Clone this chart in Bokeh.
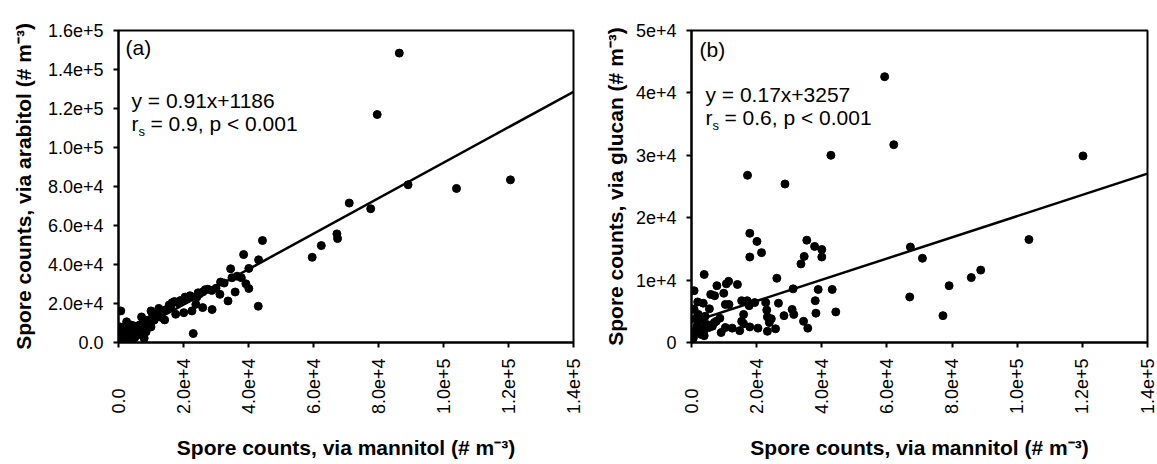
import math
from bokeh.plotting import figure
from bokeh.models import Range1d, FixedTicker, Label
from bokeh.layouts import row
from bokeh.embed import file_html
from bokeh.resources import INLINE

# ---------------- data ----------------
x_ticks = [0, 20000, 40000, 60000, 80000, 100000, 120000, 140000]
x_tick_labels = ["0.0", "2.0e+4", "4.0e+4", "6.0e+4", "8.0e+4", "1.0e+5", "1.2e+5", "1.4e+5"]
ya_ticks = [0, 20000, 40000, 60000, 80000, 100000, 120000, 140000, 160000]
ya_tick_labels = ["0.0", "2.0e+4", "4.0e+4", "6.0e+4", "8.0e+4", "1.0e+5", "1.2e+5", "1.4e+5", "1.6e+5"]
yb_ticks = [0, 10000, 20000, 30000, 40000, 50000]
yb_tick_labels = ["0", "1e+4", "2e+4", "3e+4", "4e+4", "5e+4"]

# panel (a): mannitol vs arabitol (thousands)
mannitol_a_k = [86.4, 79.6, 89.1, 104.0, 120.6, 71.0, 77.6, 67.2, 67.4, 62.4, 59.6, 44.3, 43.1, 43.0,
                38.5, 40.1, 40.1, 39.2, 37.8, 34.5, 34.9, 35.9, 33.7, 31.4, 31.2, 28.7, 28.8, 26.7,
                25.9, 25.0, 24.1, 23.0, 22.6, 23.8, 20.5, 20.1, 18.4, 17.6, 16.5, 15.6, 14.2, 14.5,
                12.4, 11.4, 10.0, 10.5, 8.8, 7.1, 7.9, 5.9, 4.8, 2.5, 0.7, 0.9,
                15.0, 16.0, 17.2, 19.0, 21.0, 22.0, 24.5, 26.0, 27.5, 30.0, 32.5, 36.5, 13.0, 12.0,
                9.5, 11.0,
                0.3, 0.8, 1.5, 2.0, 2.5, 3.0, 3.5, 4.0, 4.5, 5.0, 5.5, 6.0, 6.5, 7.0, 7.5, 8.0, 9.0,
                10.0, 0.5, 1.0, 1.8, 2.2, 3.0, 0.2, 1.2, 2.8, 3.8, 5.0, 6.0, 8.5, 4.0]
arabitol_k = [148.4, 116.9, 80.9, 79.0, 83.4, 71.5, 68.6, 55.7, 53.3, 49.7, 43.7, 52.3, 42.4, 18.6,
              45.1, 38.0, 27.7, 30.1, 33.2, 37.8, 33.2, 25.9, 21.3, 31.0, 24.7, 26.7, 16.9, 27.1,
              17.9, 25.0, 23.3, 4.6, 16.2, 19.6, 23.3, 15.3, 20.3, 14.5, 20.4, 19.2, 11.6, 16.7,
              17.5, 12.8, 16.2, 14.1, 11.4, 13.1, 2.2, 6.0, 8.5, 10.6, 16.2, 6.8,
              17.0, 18.2, 21.0, 21.5, 22.2, 24.0, 25.5, 26.0, 27.3, 27.8, 30.5, 34.0, 13.0, 15.0,
              10.0, 11.5,
              0.5, 1.5, 3.0, 1.0, 4.0, 2.5, 5.0, 3.5, 6.5, 5.0, 7.0, 8.0, 9.0, 6.0, 10.0, 7.5, 9.0,
              8.0, 8.0, 4.5, 6.0, 2.0, 0.5, 1.5, 0.3, 7.0, 9.0, 2.5, 4.0, 5.5, 1.5]

# panel (b): mannitol vs glucan (thousands)
mannitol_b_k = [59.3, 62.1, 42.8, 120.2, 17.2, 28.7, 17.9, 20.1, 35.4, 103.6, 37.8, 40.0, 67.2, 34.6,
                17.9, 40.0, 21.5, 70.9, 33.6, 88.8, 85.9, 3.9, 26.2, 11.4, 10.7, 14.1, 7.8, 79.1,
                9.9, 0.8, 31.2, 38.9, 43.2, 5.9, 7.1, 67.0, 1.9, 3.6, 10.4, 11.5, 15.4, 17.1, 17.7,
                19.4, 22.8, 26.7, 38.0, 0.2, 5.5, 30.9, 23.1, 44.3, 38.2, 77.2, 16.0, 28.4, 31.4,
                23.3, 24.5, 34.4, 15.4, 16.0, 23.9, 7.6, 8.7, 35.7, 25.8, 20.4, 17.9, 14.8, 12.5,
                10.4, 9.1, 23.3,
                0.8, 1.4, 1.9, 2.5, 3.0, 3.9, 0.6, 1.0, 3.0, 4.2, 4.7, 5.3, 6.4, 7.0, 4.4, 2.1, 1.7,
                0.3, 2.8, 3.7]
glucan_k = [42.6, 31.7, 30.0, 29.9, 26.8, 25.4, 17.5, 16.2, 16.4, 16.5, 15.4, 14.9, 15.3, 13.8,
            13.7, 13.7, 14.4, 13.5, 12.6, 11.6, 10.4, 10.9, 10.3, 9.8, 9.4, 9.3, 9.1, 9.1,
            7.9, 8.3, 8.6, 8.5, 8.5, 7.7, 7.5, 7.3, 6.5, 6.3, 6.1, 6.1, 6.7, 6.7, 5.9,
            6.4, 6.4, 6.3, 6.7, 5.4, 5.4, 5.3, 5.2, 4.9, 4.7, 4.3, 4.5, 4.3, 4.5,
            4.1, 3.8, 3.4, 3.4, 3.0, 3.2, 3.4, 3.9, 2.3, 2.2, 2.3, 2.5, 1.9, 2.3,
            2.4, 1.6, 1.8,
            5.3, 3.9, 2.9, 2.1, 1.3, 1.1, 0.8, 1.8, 3.7, 4.2, 2.9, 2.4, 2.6, 3.2, 2.6, 4.5, 2.6,
            0.5, 2.1, 1.6]

mannitol_a = [v * 1000 for v in mannitol_a_k]
arabitol = [v * 1000 for v in arabitol_k]
mannitol_b = [v * 1000 for v in mannitol_b_k]
glucan = [v * 1000 for v in glucan_k]

fit_a = (0.91, 1186)
fit_b = (0.17, 3257)
x_min, x_max = 0, 140000
fit_x = [x_min, x_max]

x_title = "Spore counts, via mannitol (# m\u207b\u00b3)"

FONT = "Liberation Sans"
NBSP = "\u00a0"
ANN_SIZE = "21px"


def padded(labels):
    # the reference aligns the rotated labels at their start; pad short ones
    longest = max(len(l) for l in labels)
    return [l + NBSP * (2 * (longest - len(l))) for l in labels]


def style_axis(ax):
    ax.axis_line_width = 2
    ax.axis_line_color = "black"
    ax.major_tick_line_width = 2
    ax.major_tick_line_color = "black"
    ax.major_tick_out = 5
    ax.major_tick_in = 0
    ax.minor_tick_line_color = None
    ax.major_label_text_font = FONT
    ax.major_label_text_font_size = "18px"
    ax.major_label_text_color = "black"
    ax.axis_label_text_font = FONT
    ax.axis_label_text_font_size = "21px"
    ax.axis_label_text_font_style = "bold"
    ax.axis_label_text_color = "black"


def add_text(p, x, y, text, size):
    p.add_layout(Label(x=x, y=y, x_units="screen", y_units="screen", text=text,
                       text_baseline="middle", text_font=FONT, text_font_size=size,
                       text_color="black"))


def make_panel(xs, ys, fit, yticks, ylabels, ymax, ytitle, tag, eq, rtext,
               width, border_left, border_right, border_top, border_bottom, ytitle_standoff,
               ann_x, tag_y, eq_y):
    p = figure(width=width, height=464, output_backend="svg", toolbar_location=None,
               x_range=Range1d(x_min, x_max), y_range=Range1d(0, ymax),
               min_border_left=border_left, min_border_right=border_right,
               min_border_top=border_top, min_border_bottom=border_bottom)
    p.grid.visible = False
    p.outline_line_color = "black"
    p.outline_line_width = 2
    p.background_fill_color = "white"
    p.border_fill_color = "white"

    xa = p.xaxis[0]
    ya = p.yaxis[0]
    style_axis(xa)
    style_axis(ya)

    xa.ticker = FixedTicker(ticks=x_ticks)
    xa.major_label_overrides = {t: l for t, l in zip(x_ticks, padded(x_tick_labels))}
    xa.major_label_orientation = math.pi / 2
    xa.major_label_standoff = 11
    xa.axis_label = x_title
    xa.axis_label_standoff = 19

    ya.ticker = FixedTicker(ticks=yticks)
    ya.major_label_overrides = {t: l for t, l in zip(yticks, ylabels)}
    ya.major_label_standoff = 10
    ya.axis_label = ytitle
    ya.axis_label_standoff = ytitle_standoff

    p.line(fit_x, [fit[0] * v + fit[1] for v in fit_x], line_width=2.5, line_color="black")
    p.scatter(xs, ys, size=8, fill_color="black", line_color="black")

    add_text(p, ann_x - 6, tag_y, tag, ANN_SIZE)
    add_text(p, ann_x, eq_y, eq, ANN_SIZE)
    add_text(p, ann_x, eq_y - 23, "r", ANN_SIZE)
    add_text(p, ann_x + 7, eq_y - 31, "s", "13px")
    add_text(p, ann_x + 19, eq_y - 23, rtext, ANN_SIZE)
    return p


pa = make_panel(mannitol_a, arabitol, fit_a, ya_ticks, ya_tick_labels, 160000,
                "Spore counts, via arabitol (# m\u207b\u00b3)", "(a)", "y = 0.91x+1186",
                "= 0.9, p < 0.001",
                width=590, border_left=118, border_right=17, border_top=29, border_bottom=122,
                ytitle_standoff=10, ann_x=13, tag_y=295, eq_y=242)
pb = make_panel(mannitol_b, glucan, fit_b, yb_ticks, yb_tick_labels, 50000,
                "Spore counts, via glucan (# m\u207b\u00b3)", "(b)", "y = 0.17x+3257",
                "= 0.6, p < 0.001",
                width=567, border_left=101, border_right=10, border_top=30, border_bottom=119,
                ytitle_standoff=6, ann_x=14, tag_y=293, eq_y=248)

layout = row(pa, pb, spacing=0)
open("out.html", "w").write(file_html(layout, INLINE))
